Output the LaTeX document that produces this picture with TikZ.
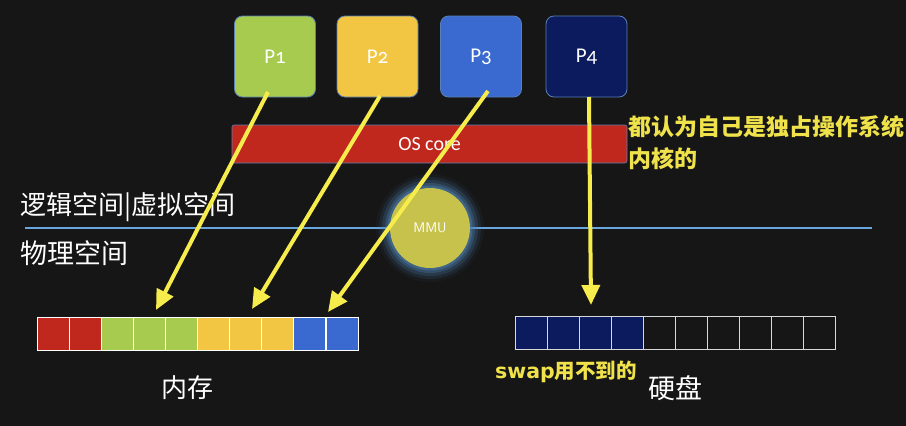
\documentclass[tikz,border=0pt]{standalone}
\usepackage{fontspec}
\setmainfont{Noto Sans CJK SC}
\newfontfamily\pfont{Carlito}[Numbers=OldStyle]
\newfontfamily\swapfont{DejaVu Sans}
\usetikzlibrary{arrows.meta}
\definecolor{bg}{HTML}{161616}
\definecolor{pgreen}{HTML}{A6CB4F}
\definecolor{pyellow}{HTML}{F2C542}
\definecolor{pblue}{HTML}{3A6ACF}
\definecolor{pnavy}{HTML}{0C1A5E}
\definecolor{osred}{HTML}{C0281E}
\definecolor{arrowyellow}{HTML}{F6EC4C}
\definecolor{noteyellow}{HTML}{F0E24A}
\definecolor{lineblue}{HTML}{6AA6DE}
\definecolor{mmucol}{HTML}{C6C24C}
\definecolor{glow}{HTML}{4F7FAF}
\definecolor{pborder}{HTML}{5A80B4}
\tikzset{
  proc/.style={draw=pborder, line width=0.8pt, rounded corners=8pt, minimum width=81pt, minimum height=81pt, inner sep=0pt, text=white, font=\pfont\fontsize{21}{23}\selectfont},
  oscore/.style={draw=pborder, line width=0.6pt, fill=osred, rounded corners=2pt, minimum width=395pt, minimum height=38pt, inner sep=0pt, text=white, font=\pfont\fontsize{20}{22}\selectfont},
  arr/.style={draw=arrowyellow, line width=4pt, -{Triangle[width=18pt,length=20pt]}, fill=arrowyellow},
  cell/.style={draw=white, line width=1.1pt, minimum width=32.1pt, minimum height=33pt, inner sep=0pt, anchor=north west},
  dcell/.style={draw=white!85!black, line width=1.1pt, minimum width=32pt, minimum height=33pt, inner sep=0pt, anchor=north west},
  whitetext/.style={text=white, inner sep=0pt},
  note/.style={text=noteyellow, inner sep=0pt, font=\bfseries\fontsize{23}{32}\selectfont, align=left}
}
\begin{document}
\begin{tikzpicture}[x=1pt,y=-1pt]
\fill[bg] (0,0) rectangle (906,426);
\useasboundingbox (0,0) rectangle (906,426);

% processes
\node[proc, fill=pgreen] (p1) at (275,56.5) {P1};
\node[proc, fill=pyellow] (p2) at (377.5,56.5) {P2};
\node[proc, fill=pblue] (p3) at (481,56.5) {P3};
\node[proc, fill=pnavy] (p4) at (586.5,56.5) {P4};

% OS core
\node[oscore] (os) at (429.5,144) {OS core};

% note
\node[note, anchor=north west] (note) at (628,115) {都认为自己是独占操作系统\\内核的};

% divider line
\coordinate (l1) at (25,228);
\coordinate (l2) at (872,228);
\draw[lineblue, line width=1.6pt] (l1) -- (l2);

% labels
\node[whitetext, anchor=west, font=\fontsize{26}{28}\selectfont] (virt) at (20,207) {逻辑空间|虚拟空间};
\node[whitetext, anchor=west, font=\fontsize{27}{29}\selectfont] (phys) at (20,253) {物理空间};

% MMU
\foreach \r/\o in {54/0.06,51/0.12,48/0.2,45/0.3,42.5/0.45}{
  \fill[glow, opacity=\o] (430,228) circle (\r);
}
\node[circle, fill=mmucol, minimum size=80pt, inner sep=0pt, text=white, font=\sffamily\fontsize{14}{16}\selectfont] (mmu) at (430,228) {MMU};

% memory
\foreach \i/\c in {0/osred,1/osred,2/pgreen,3/pgreen,4/pgreen,5/pyellow,6/pyellow,7/pyellow,8/pblue,9/pblue}{
  \node[cell, fill=\c] (m\i) at ({36.5+\i*32.1},317) {};
}
% disk
\foreach \i in {0,...,9}{
  \ifnum\i<4
    \node[dcell, fill=pnavy] (d\i) at ({515+\i*32},316) {};
  \else
    \node[dcell, fill=bg] (d\i) at ({515+\i*32},316) {};
  \fi
}

\node[whitetext, font=\fontsize{26}{28}\selectfont] (mem) at (187,388) {内存};
\node[whitetext, font=\fontsize{27}{29}\selectfont] (disk) at (675,388) {硬盘};
\node[text=noteyellow, inner sep=0pt, anchor=west, font=\bfseries\fontsize{20.5}{22}\selectfont] (swap) at (495,372) {{\swapfont\bfseries swap}用不到的};

% arrows
\coordinate (s1) at (268,92);  \coordinate (t1) at (156,310);
\coordinate (s2) at (380,96);  \coordinate (t2) at (252,309);
\coordinate (s3) at (488,91);  \coordinate (t3) at (328,312);
\coordinate (s4) at (589,97);  \coordinate (t4) at (591,305);
\draw[arr] (s1) -- (t1);
\draw[arr] (s2) -- (t2);
\draw[arr] (s3) -- (t3);
\draw[arr] (s4) -- (t4);
\end{tikzpicture}
\end{document}
